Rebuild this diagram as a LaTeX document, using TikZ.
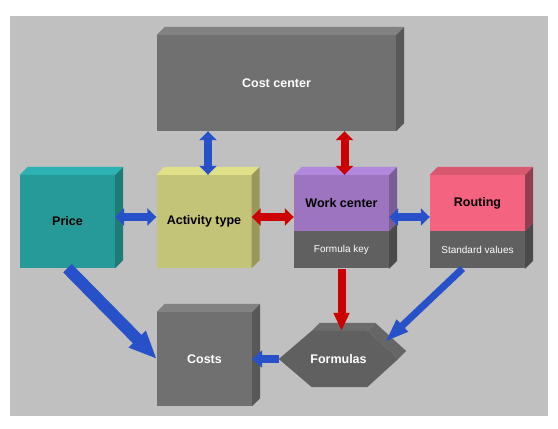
\documentclass[tikz,border=0pt]{standalone}
\usepackage{fontspec}
\setmainfont{Liberation Sans}
\usetikzlibrary{arrows.meta, positioning, backgrounds}
\definecolor{panelgray}{RGB}{192,192,192}
\definecolor{boxfront}{RGB}{112,112,112}
\definecolor{boxtop}{RGB}{130,130,130}
\definecolor{boxside}{RGB}{88,88,88}
\definecolor{keyfront}{RGB}{96,96,96}
\definecolor{keyside}{RGB}{74,74,74}
\definecolor{hextop}{RGB}{108,108,108}
\definecolor{hexside}{RGB}{102,102,102}
\definecolor{pricefront}{RGB}{38,154,152}
\definecolor{pricetop}{RGB}{44,178,178}
\definecolor{priceside}{RGB}{30,124,120}
\definecolor{actfront}{RGB}{196,196,120}
\definecolor{acttop}{RGB}{224,224,136}
\definecolor{actside}{RGB}{152,152,88}
\definecolor{wcfront}{RGB}{156,116,192}
\definecolor{wctop}{RGB}{178,136,222}
\definecolor{wcside}{RGB}{122,92,150}
\definecolor{routfront}{RGB}{244,100,128}
\definecolor{routtop}{RGB}{216,88,112}
\definecolor{routside}{RGB}{148,60,80}
\definecolor{arrowblue}{RGB}{40,80,200}
\definecolor{arrowred}{RGB}{204,0,0}

\begin{document}
\begin{tikzpicture}[
    x=1pt, y=-1pt,
    every node/.style={font=\fontsize{12.5}{15}\selectfont\bfseries, inner sep=0pt},
    block/.style={rectangle, minimum width=95pt, minimum height=93pt},
    upper/.style={rectangle, minimum width=95pt, minimum height=56pt},
    keybox/.style={rectangle, fill=keyfront, minimum width=95pt, minimum height=37pt,
                   text=white, font=\fontsize{10}{12}\selectfont},
    twoway/.style={line width=8pt, {Triangle[length=9pt,width=17pt]}-{Triangle[length=9pt,width=17pt]}},
    oneway/.style={line width=8pt, -{Triangle[length=10pt,width=17pt]}}
]
\useasboundingbox (0,0) rectangle (558,429);

\node (costcenter) [rectangle, minimum width=239pt, minimum height=96pt, fill=boxfront, text=white] at (276.5,83) {Cost center};
\node (price) [block, fill=pricefront] at (67.5,221.5) {Price};
\node (activity) [block, fill=actfront] at (204,221.5) {Activity type};
\node (workcenter) [upper, fill=wcfront] at (341.5,203) {Work center};
\node (formulakey) [keybox, below=0pt of workcenter] {Formula key};
\node (routing) [upper, fill=routfront] at (477.5,203) {Routing};
\node (standardvalues) [keybox, below=0pt of routing] {Standard values};
\node (costs) [block, minimum height=94pt, fill=boxfront, text=white] at (204.5,359) {Costs};
\node (formulas) [rectangle, minimum width=119pt, minimum height=56pt, text=white] at (338.5,359) {Formulas};

% top and side faces
\foreach \n/\t in {costcenter/boxtop, price/pricetop, activity/acttop, workcenter/wctop, routing/routtop, costs/boxtop}
    \fill[\t] (\n.north west) -- ++(8,-8) -- ([shift={(8pt,8pt)}]\n.north east) -- (\n.north east) -- cycle;
\foreach \n/\s in {costcenter/boxside, price/priceside, activity/actside, workcenter/wcside, formulakey/keyside,
                   routing/routside, standardvalues/keyside, costs/boxside}
    \fill[\s] (\n.north east) -- ++(8,-8) -- ([shift={(8pt,8pt)}]\n.south east) -- (\n.south east) -- cycle;

\begin{scope}[on background layer]
\fill[panelgray] (10,16) rectangle (548,416);
\fill[hextop] ([xshift=33pt]formulas.north west) -- ++(8,-8) -- ([shift={(-23pt,8pt)}]formulas.north east)
    -- ([xshift=-31pt]formulas.north east) -- cycle;
\fill[hexside] ([xshift=-31pt]formulas.north east) -- ([shift={(-23pt,8pt)}]formulas.north east)
    -- ([shift={(8pt,8pt)}]formulas.east) -- (formulas.east) -- cycle;
\fill[keyfront] (formulas.west) -- ([xshift=33pt]formulas.north west) -- ([xshift=-31pt]formulas.north east)
    -- (formulas.east) -- ([xshift=-31pt]formulas.south east) -- ([xshift=33pt]formulas.south west) -- cycle;
\end{scope}

\coordinate (midrow) at (0,217);
\coordinate (fhit) at (385,342);

\draw [twoway, arrowblue] ([xshift=4pt]activity.north) -- ([xshift=4pt]activity.north |- costcenter.south);
\draw [twoway, arrowred] ([xshift=3pt]workcenter.north) -- ([xshift=3pt]workcenter.north |- costcenter.south);
\draw [twoway, arrowblue] (price.east |- midrow) -- (activity.west |- midrow);
\draw [twoway, arrowred] (activity.east |- midrow) -- (workcenter.west |- midrow);
\draw [twoway, arrowblue] (workcenter.east |- midrow) -- (routing.west |- midrow);
\draw [arrowblue, line width=12pt, -{Triangle[length=28pt,width=22pt]}] (price.south) -- (costs.west);
\draw [oneway, arrowred, -{Triangle[length=18pt,width=15pt]}] (formulakey.south) -- (formulakey.south |- formulas.north);
\draw [arrowblue, line width=7pt, -{Triangle[length=24pt,width=15pt]}] ([xshift=-15pt]standardvalues.south) -- (fhit);
\draw [oneway, arrowblue] (formulas.west) -- (costs.east);

\end{tikzpicture}
\end{document}
